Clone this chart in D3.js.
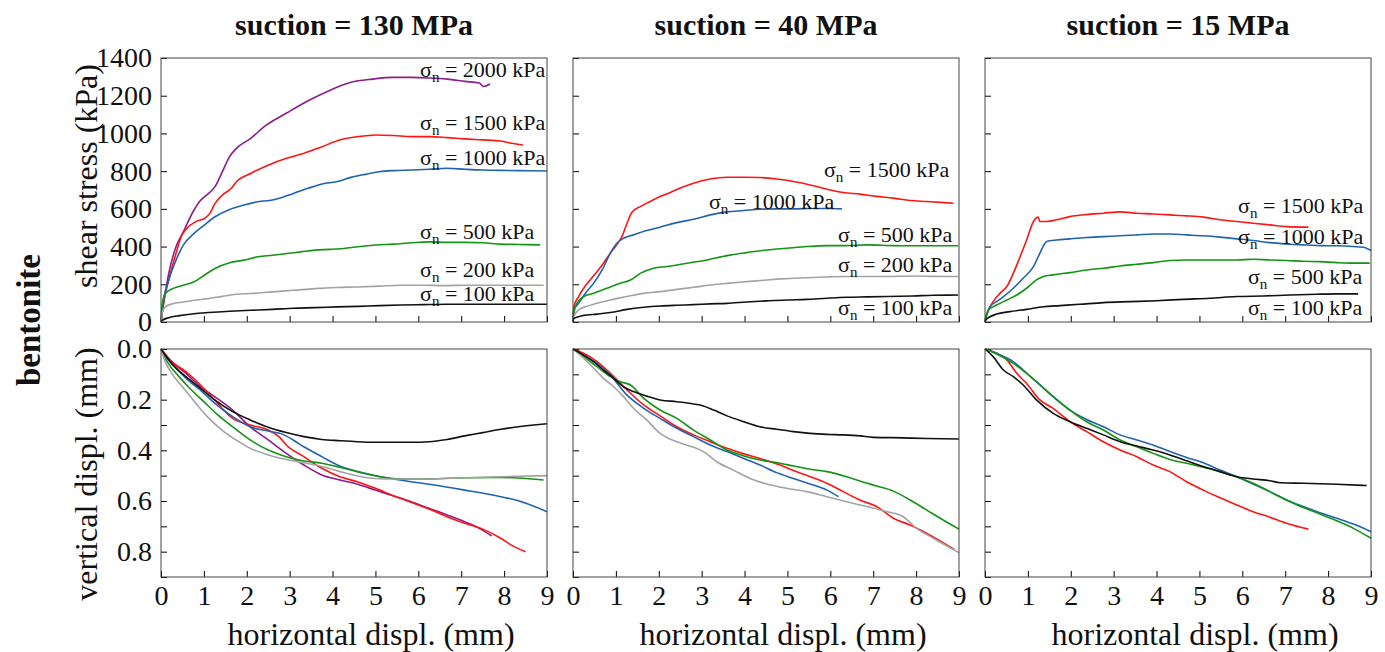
<!DOCTYPE html>
<html lang="en">
<head>
<meta charset="UTF-8">
<title>Bentonite shear tests</title>
<script src="https://d3js.org/d3.v7.min.js"></script>
<style>
  body { margin: 0; background: #fff; }
  text { font-family: "Liberation Serif", "Times New Roman", serif; fill: #111; }
</style>
</head>
<body>
<div id="chart"></div>
<script>
// --- data (x = horizontal displ. mm) ---
const suctions = ["130", "40", "15"];
const loads = ["2000", "1500", "1000", "500", "200", "100"];
const xTicks = [0, 1, 2, 3, 4, 5, 6, 7, 8, 9];
const shearTicks = [0, 200, 400, 600, 800, 1000, 1200, 1400];
const vertTicks = [0, 0.1, 0.2, 0.3, 0.4, 0.5, 0.6, 0.7, 0.8, 0.9];

// shear stress (kPa), suction 130 MPa
const tau130_2000 = [[0,0],[0.06,97],[0.18,257],[0.35,399],[0.52,478],[0.77,594],[0.93,647],[1.06,673],[1.26,718],[1.43,797],[1.6,877],[1.76,921],[2.1,975],[2.43,1040],[2.93,1108],[3.43,1173],[3.93,1228],[4.43,1271],[4.93,1288],[5.42,1297],[5.84,1297],[6.26,1294],[6.67,1288],[7.09,1276],[7.42,1267],[7.52,1249],[7.67,1262]];
const tau130_1500 = [[0,0],[0.06,100],[0.18,222],[0.35,363],[0.47,452],[0.6,496],[0.81,532],[1.01,549],[1.14,576],[1.26,629],[1.43,673],[1.64,709],[1.76,744],[2.1,789],[2.51,833],[2.93,868],[3.34,895],[3.76,930],[4.18,966],[4.59,983],[5.01,992],[5.42,989],[5.84,983],[6.26,983],[6.67,978],[7.09,971],[7.5,966],[7.92,960],[8.17,948],[8.44,939]];
const tau130_1000 = [[0,0],[0.06,115],[0.18,222],[0.35,328],[0.52,408],[0.77,470],[1.01,514],[1.26,558],[1.6,597],[1.93,620],[2.26,638],[2.6,647],[2.76,656],[3.09,682],[3.43,709],[3.76,732],[4.09,744],[4.43,767],[4.76,783],[5.09,797],[5.42,803],[5.84,806],[6.26,810],[6.67,815],[7.09,810],[7.5,806],[7.92,804],[8.34,803],[9,801]];
const tau130_500 = [[0,0],[0.03,97],[0.1,151],[0.27,177],[0.52,195],[0.77,213],[1.01,248],[1.26,284],[1.6,314],[1.93,328],[2.26,346],[2.6,354],[2.93,363],[3.26,372],[3.59,381],[3.93,385],[4.26,390],[4.59,399],[5.01,408],[5.42,413],[5.84,420],[6.26,425],[6.67,422],[7.09,422],[7.5,420],[7.92,413],[8.34,411],[8.84,409]];
const tau130_200 = [[0,0],[0.03,53],[0.1,80],[0.27,97],[0.52,106],[0.77,115],[1.1,124],[1.43,136],[1.76,147],[2.1,151],[2.6,160],[3.09,168],[3.59,177],[4.09,183],[4.59,186],[5.09,190],[5.59,195],[6.09,195],[6.59,193],[7.09,195],[7.59,195],[8.09,195],[8.92,195]];
const tau130_100 = [[0,0],[0.03,9],[0.18,23],[0.43,34],[0.77,44],[1.1,50],[1.6,57],[2.1,62],[2.6,67],[3.09,73],[3.59,76],[4.09,80],[4.59,83],[5.09,87],[5.59,90],[6.09,92],[6.67,94],[9,94]];

// shear stress (kPa), suction 40 MPa
const tau40_1500 = [[0,0],[0.02,81],[0.13,135],[0.25,179],[0.4,223],[0.56,267],[0.71,312],[0.87,365],[1.02,409],[1.14,453],[1.26,524],[1.37,581],[1.57,612],[1.8,639],[2.03,666],[2.27,687],[2.5,710],[2.81,736],[3.2,758],[3.59,768],[3.98,768],[4.36,766],[4.75,758],[5.14,745],[5.53,727],[5.92,704],[6.3,687],[6.69,678],[7.08,666],[7.47,657],[7.86,644],[8.25,639],[8.87,630]];
const tau40_1000 = [[0,0],[0.02,64],[0.13,99],[0.29,152],[0.48,205],[0.68,276],[0.87,365],[1.02,418],[1.18,444],[1.41,462],[1.72,485],[2.03,503],[2.42,527],[2.81,545],[3.2,568],[3.59,584],[3.98,591],[4.36,598],[4.75,600],[5.14,600],[5.53,602],[5.92,602],[6.27,600]];
const tau40_500 = [[0,0],[0.02,46],[0.09,99],[0.25,135],[0.48,152],[0.79,179],[1.1,205],[1.34,223],[1.57,258],[1.88,285],[2.19,294],[2.66,312],[3.12,329],[3.59,352],[4.05,368],[4.52,382],[4.98,391],[5.45,400],[5.92,405],[6.38,405],[6.85,409],[7.47,405],[7.93,404],[8.4,404],[8.98,404]];
const tau40_200 = [[0,0],[0.02,28],[0.13,64],[0.29,81],[0.56,99],[0.87,117],[1.26,135],[1.65,152],[2.03,161],[2.42,173],[2.81,184],[3.2,196],[3.59,205],[4.05,214],[4.52,223],[4.98,230],[5.45,235],[5.92,239],[6.38,241],[6.85,241],[7.31,241],[7.93,244],[8.4,242],[8.98,241]];
const tau40_100 = [[0,0],[0.02,19],[0.25,35],[0.56,42],[0.87,50],[1.26,67],[1.65,78],[2.03,85],[2.42,89],[2.81,92],[3.2,96],[3.59,99],[4.05,106],[4.52,112],[4.98,117],[5.45,120],[5.92,126],[6.38,131],[6.85,133],[7.31,135],[7.93,138],[8.4,142],[8.98,143]];

// shear stress (kPa), suction 15 MPa
const tau15_1500 = [[0,0],[0.02,28],[0.08,64],[0.19,108],[0.35,152],[0.51,188],[0.66,258],[0.82,347],[0.97,435],[1.13,533],[1.24,556],[1.28,533],[1.44,533],[1.67,542],[1.98,559],[2.37,570],[2.76,577],[3.15,584],[3.54,577],[3.92,573],[4.31,568],[4.7,563],[5.09,556],[5.48,542],[5.87,533],[6.25,524],[6.64,515],[7.03,506],[7.54,503]];
const tau15_1000 = [[0,0],[0.02,19],[0.12,81],[0.27,108],[0.43,135],[0.66,179],[0.89,232],[1.13,294],[1.28,365],[1.44,427],[1.67,435],[1.98,441],[2.37,448],[2.76,453],[3.15,457],[3.54,462],[3.92,467],[4.31,467],[4.7,462],[5.09,457],[5.48,450],[5.87,441],[6.25,432],[6.64,421],[7.03,414],[7.42,409],[7.81,405],[8.2,404],[8.59,400],[8.82,396],[9,379]];
const tau15_500 = [[0,0],[0.02,19],[0.08,64],[0.27,90],[0.51,117],[0.74,143],[0.97,179],[1.2,223],[1.36,241],[1.59,250],[1.98,262],[2.37,276],[2.76,285],[3.15,297],[3.54,306],[3.92,315],[4.31,326],[4.7,329],[5.09,329],[5.48,329],[5.87,329],[6.25,333],[6.64,329],[7.03,326],[7.42,322],[7.81,320],[8.2,315],[8.59,312],[8.97,312]];
const tau15_100 = [[0,0],[0.02,11],[0.12,28],[0.27,42],[0.58,55],[0.97,67],[1.36,81],[1.75,87],[2.21,94],[2.76,103],[3.38,108],[4,113],[4.62,120],[5.24,126],[5.87,135],[6.49,138],[7.11,143],[7.73,147],[8.2,149],[8.7,149]];

// vertical displacement (mm), suction 130 MPa
const dv130_2000 = [[0,0],[0.25,0.05],[0.58,0.096],[0.92,0.149],[1.25,0.188],[1.67,0.241],[2.08,0.307],[2.5,0.359],[2.92,0.412],[3.33,0.458],[3.75,0.497],[4.17,0.517],[4.58,0.534],[5,0.557],[5.42,0.58],[5.83,0.603],[6.25,0.629],[6.67,0.655],[7.08,0.682],[7.42,0.708],[7.71,0.738]];
const dv130_1500 = [[0,0],[0.25,0.05],[0.58,0.089],[0.92,0.142],[1.25,0.201],[1.67,0.274],[2.08,0.3],[2.5,0.32],[2.75,0.346],[2.92,0.379],[3.33,0.425],[3.75,0.471],[4.17,0.504],[4.58,0.524],[5,0.55],[5.42,0.579],[5.83,0.605],[6.25,0.632],[6.67,0.662],[7.08,0.688],[7.5,0.711],[7.92,0.747],[8.17,0.774],[8.5,0.8]];
const dv130_1000 = [[0,0],[0.17,0.043],[0.42,0.089],[0.67,0.129],[0.92,0.162],[1.25,0.214],[1.67,0.267],[2.08,0.307],[2.5,0.324],[2.83,0.336],[3.08,0.359],[3.33,0.386],[3.75,0.425],[4.17,0.462],[4.58,0.484],[5,0.5],[5.42,0.513],[5.83,0.524],[6.25,0.534],[7.08,0.557],[7.92,0.583],[8.33,0.599],[9,0.642]];
const dv130_500 = [[0,0],[0.17,0.057],[0.42,0.109],[0.67,0.155],[1,0.208],[1.33,0.261],[1.67,0.307],[2.08,0.359],[2.5,0.399],[2.92,0.425],[3.33,0.442],[3.75,0.451],[4.17,0.467],[4.58,0.484],[5,0.5],[5.42,0.511],[5.83,0.513],[6.25,0.513],[7.08,0.508],[7.92,0.507],[8.33,0.509],[8.92,0.517]];
const dv130_200 = [[0,0],[0.08,0.043],[0.25,0.096],[0.5,0.149],[0.75,0.201],[1.08,0.267],[1.42,0.32],[1.75,0.359],[2.08,0.392],[2.5,0.418],[2.92,0.436],[3.33,0.449],[3.75,0.464],[4.17,0.484],[4.58,0.501],[5,0.511],[5.42,0.513],[6.25,0.513],[7.08,0.508],[7.92,0.504],[9,0.5]];
const dv130_100 = [[0,0],[0.25,0.057],[0.58,0.109],[0.92,0.155],[1.25,0.201],[1.67,0.247],[2.08,0.28],[2.5,0.309],[2.92,0.33],[3.33,0.346],[3.75,0.357],[4.17,0.362],[4.58,0.366],[5,0.368],[5.42,0.368],[5.83,0.368],[6.25,0.366],[6.67,0.357],[7.08,0.343],[7.5,0.33],[7.92,0.317],[8.33,0.307],[8.75,0.299],[9,0.295]];

// vertical displacement (mm), suction 40 MPa
const dv40_1500 = [[0,0],[0.25,0.017],[0.56,0.05],[0.87,0.096],[1.26,0.162],[1.65,0.221],[2.03,0.264],[2.42,0.307],[2.81,0.339],[3.2,0.366],[3.59,0.392],[3.98,0.414],[4.36,0.432],[4.83,0.458],[5.14,0.48],[5.53,0.504],[5.92,0.53],[6.3,0.563],[6.69,0.596],[7.08,0.622],[7.47,0.668],[7.86,0.695],[8.25,0.728],[8.89,0.791]];
const dv40_1000 = [[0,0],[0.25,0.024],[0.56,0.057],[0.87,0.103],[1.26,0.182],[1.65,0.234],[2.03,0.274],[2.42,0.313],[2.81,0.346],[3.2,0.379],[3.59,0.405],[3.98,0.432],[4.36,0.458],[4.75,0.488],[5.14,0.511],[5.53,0.533],[5.92,0.557],[6.19,0.583]];
const dv40_500 = [[0,0],[0.25,0.03],[0.56,0.07],[0.87,0.109],[1.1,0.129],[1.34,0.142],[1.65,0.195],[2.03,0.241],[2.42,0.274],[2.81,0.32],[3.2,0.359],[3.59,0.399],[3.98,0.422],[4.36,0.438],[4.83,0.451],[5.14,0.462],[5.53,0.475],[5.92,0.484],[6.38,0.504],[6.69,0.521],[7.08,0.541],[7.47,0.561],[7.86,0.596],[8.25,0.636],[8.63,0.675],[9,0.711]];
const dv40_200 = [[0,0],[0.25,0.037],[0.48,0.076],[0.71,0.116],[0.95,0.149],[1.18,0.188],[1.41,0.234],[1.72,0.28],[2.03,0.333],[2.42,0.366],[2.81,0.388],[3.04,0.405],[3.35,0.445],[3.74,0.478],[4.13,0.511],[4.52,0.533],[4.98,0.55],[5.45,0.563],[5.92,0.583],[6.38,0.603],[6.85,0.622],[7.31,0.642],[7.7,0.662],[8.01,0.708],[8.4,0.747],[9,0.804]];
const dv40_100 = [[0,0],[0.25,0.024],[0.48,0.05],[0.71,0.083],[0.95,0.116],[1.18,0.149],[1.41,0.168],[1.72,0.186],[2.03,0.201],[2.42,0.208],[2.81,0.217],[3.04,0.225],[3.28,0.241],[3.59,0.264],[3.98,0.287],[4.36,0.307],[4.75,0.317],[5.14,0.326],[5.53,0.333],[5.92,0.337],[6.3,0.339],[6.69,0.343],[7,0.349],[7.47,0.35],[8.25,0.353],[9,0.355]];

// vertical displacement (mm), suction 15 MPa
const dv15_1500 = [[0,0],[0.27,0.017],[0.51,0.043],[0.74,0.096],[0.97,0.136],[1.28,0.201],[1.59,0.234],[1.98,0.287],[2.37,0.326],[2.76,0.366],[3.15,0.399],[3.54,0.425],[3.92,0.458],[4.31,0.484],[4.7,0.524],[5.09,0.557],[5.48,0.587],[5.87,0.616],[6.25,0.642],[6.64,0.664],[7.03,0.688],[7.54,0.711]];
const dv15_1000 = [[0,0],[0.27,0.017],[0.66,0.05],[0.89,0.083],[1.2,0.129],[1.59,0.188],[1.98,0.241],[2.37,0.278],[2.76,0.307],[3.15,0.339],[3.54,0.359],[3.92,0.379],[4.31,0.405],[4.7,0.428],[5.09,0.449],[5.48,0.478],[5.87,0.504],[6.25,0.533],[6.64,0.563],[7.03,0.596],[7.42,0.622],[7.81,0.646],[8.2,0.668],[8.59,0.691],[9,0.721]];
const dv15_500 = [[0,0],[0.27,0.02],[0.66,0.057],[0.97,0.096],[1.28,0.142],[1.59,0.188],[1.98,0.241],[2.37,0.287],[2.76,0.32],[3.15,0.359],[3.54,0.386],[3.92,0.412],[4.31,0.436],[4.7,0.451],[5.09,0.467],[5.48,0.484],[5.87,0.504],[6.25,0.53],[6.64,0.563],[7.03,0.596],[7.42,0.626],[7.81,0.651],[8.2,0.678],[8.59,0.708],[9,0.747]];
const dv15_100 = [[0,0],[0.19,0.03],[0.43,0.083],[0.66,0.109],[0.89,0.142],[1.2,0.201],[1.59,0.254],[1.98,0.287],[2.37,0.313],[2.76,0.339],[3.15,0.366],[3.54,0.383],[3.92,0.399],[4.31,0.418],[4.7,0.441],[5.09,0.464],[5.48,0.484],[5.87,0.504],[6.25,0.513],[6.64,0.52],[6.88,0.528],[7.42,0.53],[8.2,0.534],[8.9,0.539]];

// label anchors per panel: [load, x (mm), shear stress (kPa)]
const labels130 = [["2000", 6.04, 1299], ["1500", 6.04, 1018], ["1000", 6.04, 833], ["500", 6.04, 440], ["200", 6.04, 239], ["100", 6.04, 111]];
const labels40 = [["1500", 5.85, 769], ["1000", 3.17, 599], ["500", 6.18, 424], ["200", 6.18, 265], ["100", 6.18, 37]];
const labels15 = [["1500", 5.9, 578], ["1000", 5.9, 414], ["500", 6.13, 202], ["100", 6.13, 37]];

// colours per normal load
const colors = {"2000": "#8c1c8c", "1500": "#ff1414", "1000": "#1f63b0", "500": "#149414", "200": "#a3a3a3", "100": "#111111"};

// assemble panels
const shearSets = [
    {"2000": tau130_2000, "1500": tau130_1500, "1000": tau130_1000, "500": tau130_500, "200": tau130_200, "100": tau130_100},
    {"1500": tau40_1500, "1000": tau40_1000, "500": tau40_500, "200": tau40_200, "100": tau40_100},
    {"1500": tau15_1500, "1000": tau15_1000, "500": tau15_500, "100": tau15_100}
];
const vertSets = [
    {"2000": dv130_2000, "1500": dv130_1500, "1000": dv130_1000, "500": dv130_500, "200": dv130_200, "100": dv130_100},
    {"1500": dv40_1500, "1000": dv40_1000, "500": dv40_500, "200": dv40_200, "100": dv40_100},
    {"1500": dv15_1500, "1000": dv15_1000, "500": dv15_500, "100": dv15_100}
];
const labelSets = [labels130, labels40, labels15];

// layout
const W = 1385, H = 652;
const panelLeft = [161, 573, 985];
const panelW = 386;
const topRow = {y0: 58, y1: 322};
const botRow = {y0: 349, y1: 577};

const svg = d3.select('#chart').append('svg')
    .attr('width', W).attr('height', H);

const yShear = d3.scaleLinear().domain([0, 1400]).range([topRow.y1, topRow.y0]);
const yVert = d3.scaleLinear().domain([0, 0.9]).range([botRow.y0, botRow.y1]);

// draw back-to-front so the lower loads stay on top like the original
const drawOrder = loads;

suctions.forEach((s, i) => {
    const x = d3.scaleLinear().domain([0, 9]).range([panelLeft[i], panelLeft[i] + panelW]);

    // title
    svg.append('text')
        .attr('x', panelLeft[i] + panelW / 2)
        .attr('y', 35)
        .attr('text-anchor', 'middle')
        .style('font-size', '30px')
        .style('font-weight', 'bold')
        .text(`suction = ${s} MPa`);

    // ----- shear stress panel -----
    const gTop = svg.append('g');
    gTop.append('g')
        .attr('transform', `translate(0,${topRow.y1})`)
        .call(d3.axisBottom(x).tickValues(xTicks).tickSizeInner(-6).tickSizeOuter(0).tickFormat(''))
        .call(g => g.select('.domain').remove());
    gTop.append('g')
        .attr('transform', `translate(${panelLeft[i]},0)`)
        .call(d3.axisLeft(yShear).tickValues(shearTicks).tickSizeInner(-6).tickSizeOuter(0).tickPadding(9)
            .tickFormat(i === 0 ? d3.format('d') : ''))
        .call(g => g.select('.domain').remove())
        .call(g => g.selectAll('text').style('font-size', '28px').attr('fill', '#111'));

    const lineTop = d3.line().curve(d3.curveMonotoneX).x(d => x(d[0])).y(d => yShear(d[1]));
    drawOrder.filter(k => shearSets[i][k]).forEach(k => {
        gTop.append('path')
            .datum(shearSets[i][k])
            .attr('fill', 'none')
            .attr('stroke', colors[k])
            .attr('stroke-width', 1.6)
            .attr('stroke-linejoin', 'round')
            .attr('d', lineTop);
    });

    labelSets[i].forEach(([load, lx, ly]) => {
        const t = gTop.append('text')
            .attr('x', x(lx))
            .attr('y', yShear(ly))
            .style('font-size', '22px');
        t.append('tspan').text('σ');
        t.append('tspan').attr('dy', 5).style('font-size', '15px').text('n');
        t.append('tspan').attr('dy', -5).text(` = ${load} kPa`);
    });

    gTop.append('rect')
        .attr('x', panelLeft[i]).attr('y', topRow.y0)
        .attr('width', panelW).attr('height', topRow.y1 - topRow.y0)
        .attr('fill', 'none').attr('stroke', '#444').attr('stroke-width', 1);

    // ----- vertical displacement panel -----
    const gBot = svg.append('g');
    gBot.append('g')
        .attr('transform', `translate(0,${botRow.y1})`)
        .call(d3.axisBottom(x).tickValues(xTicks).tickSizeInner(-6).tickSizeOuter(0).tickPadding(8).tickFormat(d3.format('d')))
        .call(g => g.select('.domain').remove())
        .call(g => g.selectAll('text').style('font-size', '28px').attr('fill', '#111'));
    gBot.append('g')
        .attr('transform', `translate(${panelLeft[i]},0)`)
        .call(d3.axisLeft(yVert).tickValues(vertTicks).tickSizeInner(-6).tickSizeOuter(0).tickPadding(9)
            .tickFormat(d => (i === 0 && Math.round(d * 10) % 2 === 0 && d < 0.85) ? d3.format('.1f')(d) : ''))
        .call(g => g.select('.domain').remove())
        .call(g => g.selectAll('text').style('font-size', '28px').attr('fill', '#111'));

    const lineBot = d3.line().curve(d3.curveMonotoneX).x(d => x(d[0])).y(d => yVert(d[1]));
    drawOrder.filter(k => vertSets[i][k]).forEach(k => {
        gBot.append('path')
            .datum(vertSets[i][k])
            .attr('fill', 'none')
            .attr('stroke', colors[k])
            .attr('stroke-width', 1.6)
            .attr('stroke-linejoin', 'round')
            .attr('d', lineBot);
    });

    gBot.append('rect')
        .attr('x', panelLeft[i]).attr('y', botRow.y0)
        .attr('width', panelW).attr('height', botRow.y1 - botRow.y0)
        .attr('fill', 'none').attr('stroke', '#444').attr('stroke-width', 1);

    // x axis title
    svg.append('text')
        .attr('x', panelLeft[i] + panelW / 2 + 17)
        .attr('y', 645)
        .attr('text-anchor', 'middle')
        .style('font-size', '32px')
        .text('horizontal displ. (mm)');
});

// y axis titles
svg.append('text')
    .attr('transform', 'translate(97,176) rotate(-90)')
    .attr('text-anchor', 'middle')
    .style('font-size', '32px')
    .text('shear stress (kPa)');
svg.append('text')
    .attr('transform', 'translate(97,474) rotate(-90)')
    .attr('text-anchor', 'middle')
    .style('font-size', '32px')
    .text('vertical displ. (mm)');
svg.append('text')
    .attr('transform', 'translate(40,320) rotate(-90)')
    .attr('text-anchor', 'middle')
    .style('font-size', '33px')
    .style('font-weight', 'bold')
    .text('bentonite');
</script>
</body>
</html>
